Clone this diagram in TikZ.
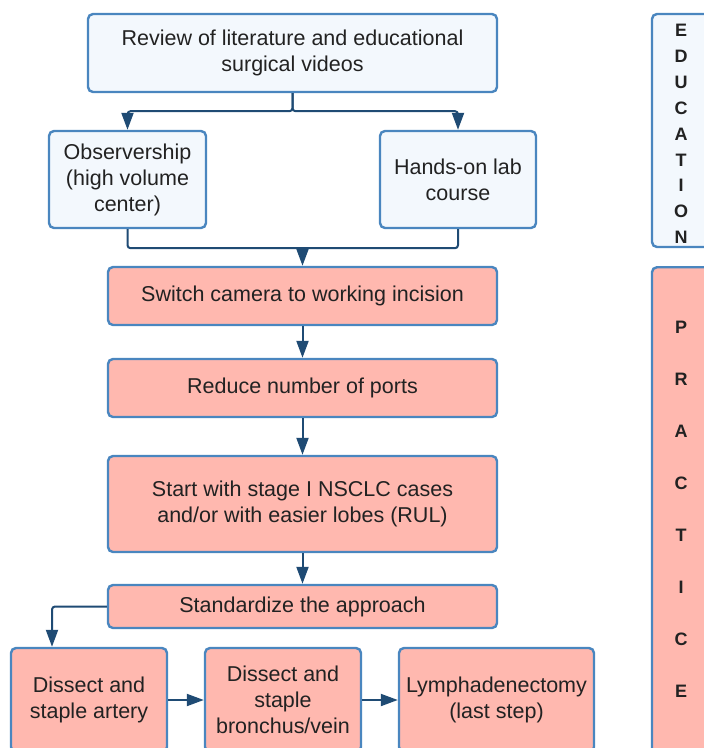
\documentclass[tikz,border=0pt]{standalone}
\usepackage{fontspec}
\setmainfont{Liberation Sans}
\usetikzlibrary{arrows.meta}
\definecolor{edge}{HTML}{4A86BF}
\definecolor{paleblue}{HTML}{F3F8FD}
\definecolor{salmon}{HTML}{FFB8AF}
\definecolor{wire}{HTML}{1F4B74}
\definecolor{ink}{HTML}{222222}
\tikzset{
  box/.style={draw=edge, line width=2.4pt, rounded corners=5pt, align=center,
    text=ink, font=\fontsize{21.5}{26}\selectfont, inner sep=2pt},
  edubox/.style={box, fill=paleblue},
  pracbox/.style={box, fill=salmon},
  sideword/.style={align=center, text=ink, inner sep=0pt},
  wireline/.style={draw=wire, line width=2pt, rounded corners=3pt},
  arr/.style={wireline, -{Triangle[width=12pt,length=17pt]}}
}
\begin{document}
\begin{tikzpicture}[x=1pt,y=-1pt]
\clip (0,0) rectangle (704,748);
\node[edubox, minimum width=409pt, minimum height=78pt] (review) at (292.5,53) {Review of literature and educational\\surgical videos};
\node[edubox, minimum width=157pt, minimum height=97pt] (obs) at (127.5,179.5) {Observership\\(high volume\\center)};
\node[edubox, minimum width=156pt, minimum height=97pt] (lab) at (458,179.5) {Hands-on lab\\course};
\node[pracbox, minimum width=389pt, minimum height=58pt] (switch) at (302.5,296) {Switch camera to working incision};
\node[pracbox, minimum width=389pt, minimum height=58pt] (ports) at (302.5,388) {Reduce number of ports};
\node[pracbox, minimum width=389pt, minimum height=96pt] (stage) at (302.5,504) {Start with stage I NSCLC cases\\and/or with easier lobes (RUL)};
\node[pracbox, minimum width=389pt, minimum height=43pt] (std) at (302.5,606.5) {Standardize the approach};
\node[pracbox, minimum width=156pt, minimum height=104pt] (artery) at (89,700) {Dissect and\\staple artery};
\node[pracbox, minimum width=156pt, minimum height=104pt] (bronchus) at (283,700) {Dissect and\\staple\\bronchus/vein};
\node[pracbox, minimum width=195pt, minimum height=104pt] (lymph) at (496.5,700) {Lymphadenectomy\\(last step)};
\node[edubox, minimum width=58pt, minimum height=233pt] (edu) at (681,130.5) {};
\node[sideword, font=\bfseries\fontsize{18}{25.9}\selectfont] (eduword) at (681,134) {E\\D\\U\\C\\A\\T\\I\\O\\N};
\node[pracbox, minimum width=58pt, minimum height=494pt, anchor=north] (prac) at (681,266) {};
\node[sideword, font=\bfseries\fontsize{18}{52}\selectfont] (pracword) at (681,509) {P\\R\\A\\C\\T\\I\\C\\E};
\draw[arr] (review.south) -- ++(0,18) -| (obs.north);
\draw[arr] (review.south) -- ++(0,18) -| (lab.north);
\draw[wireline] (obs.south) -- ++(0,19) -| (lab.south);
\draw[arr] (switch.north |- obs.south) ++(0,19) -- (switch.north);
\draw[arr] (switch) -- (ports);
\draw[arr] (ports) -- (stage);
\draw[arr] (stage) -- (std);
\draw[arr] (std.west) -| ([xshift=-37pt]artery.north);
\draw[arr] (artery) -- (bronchus);
\draw[arr] (bronchus) -- (lymph);
\end{tikzpicture}
\end{document}
